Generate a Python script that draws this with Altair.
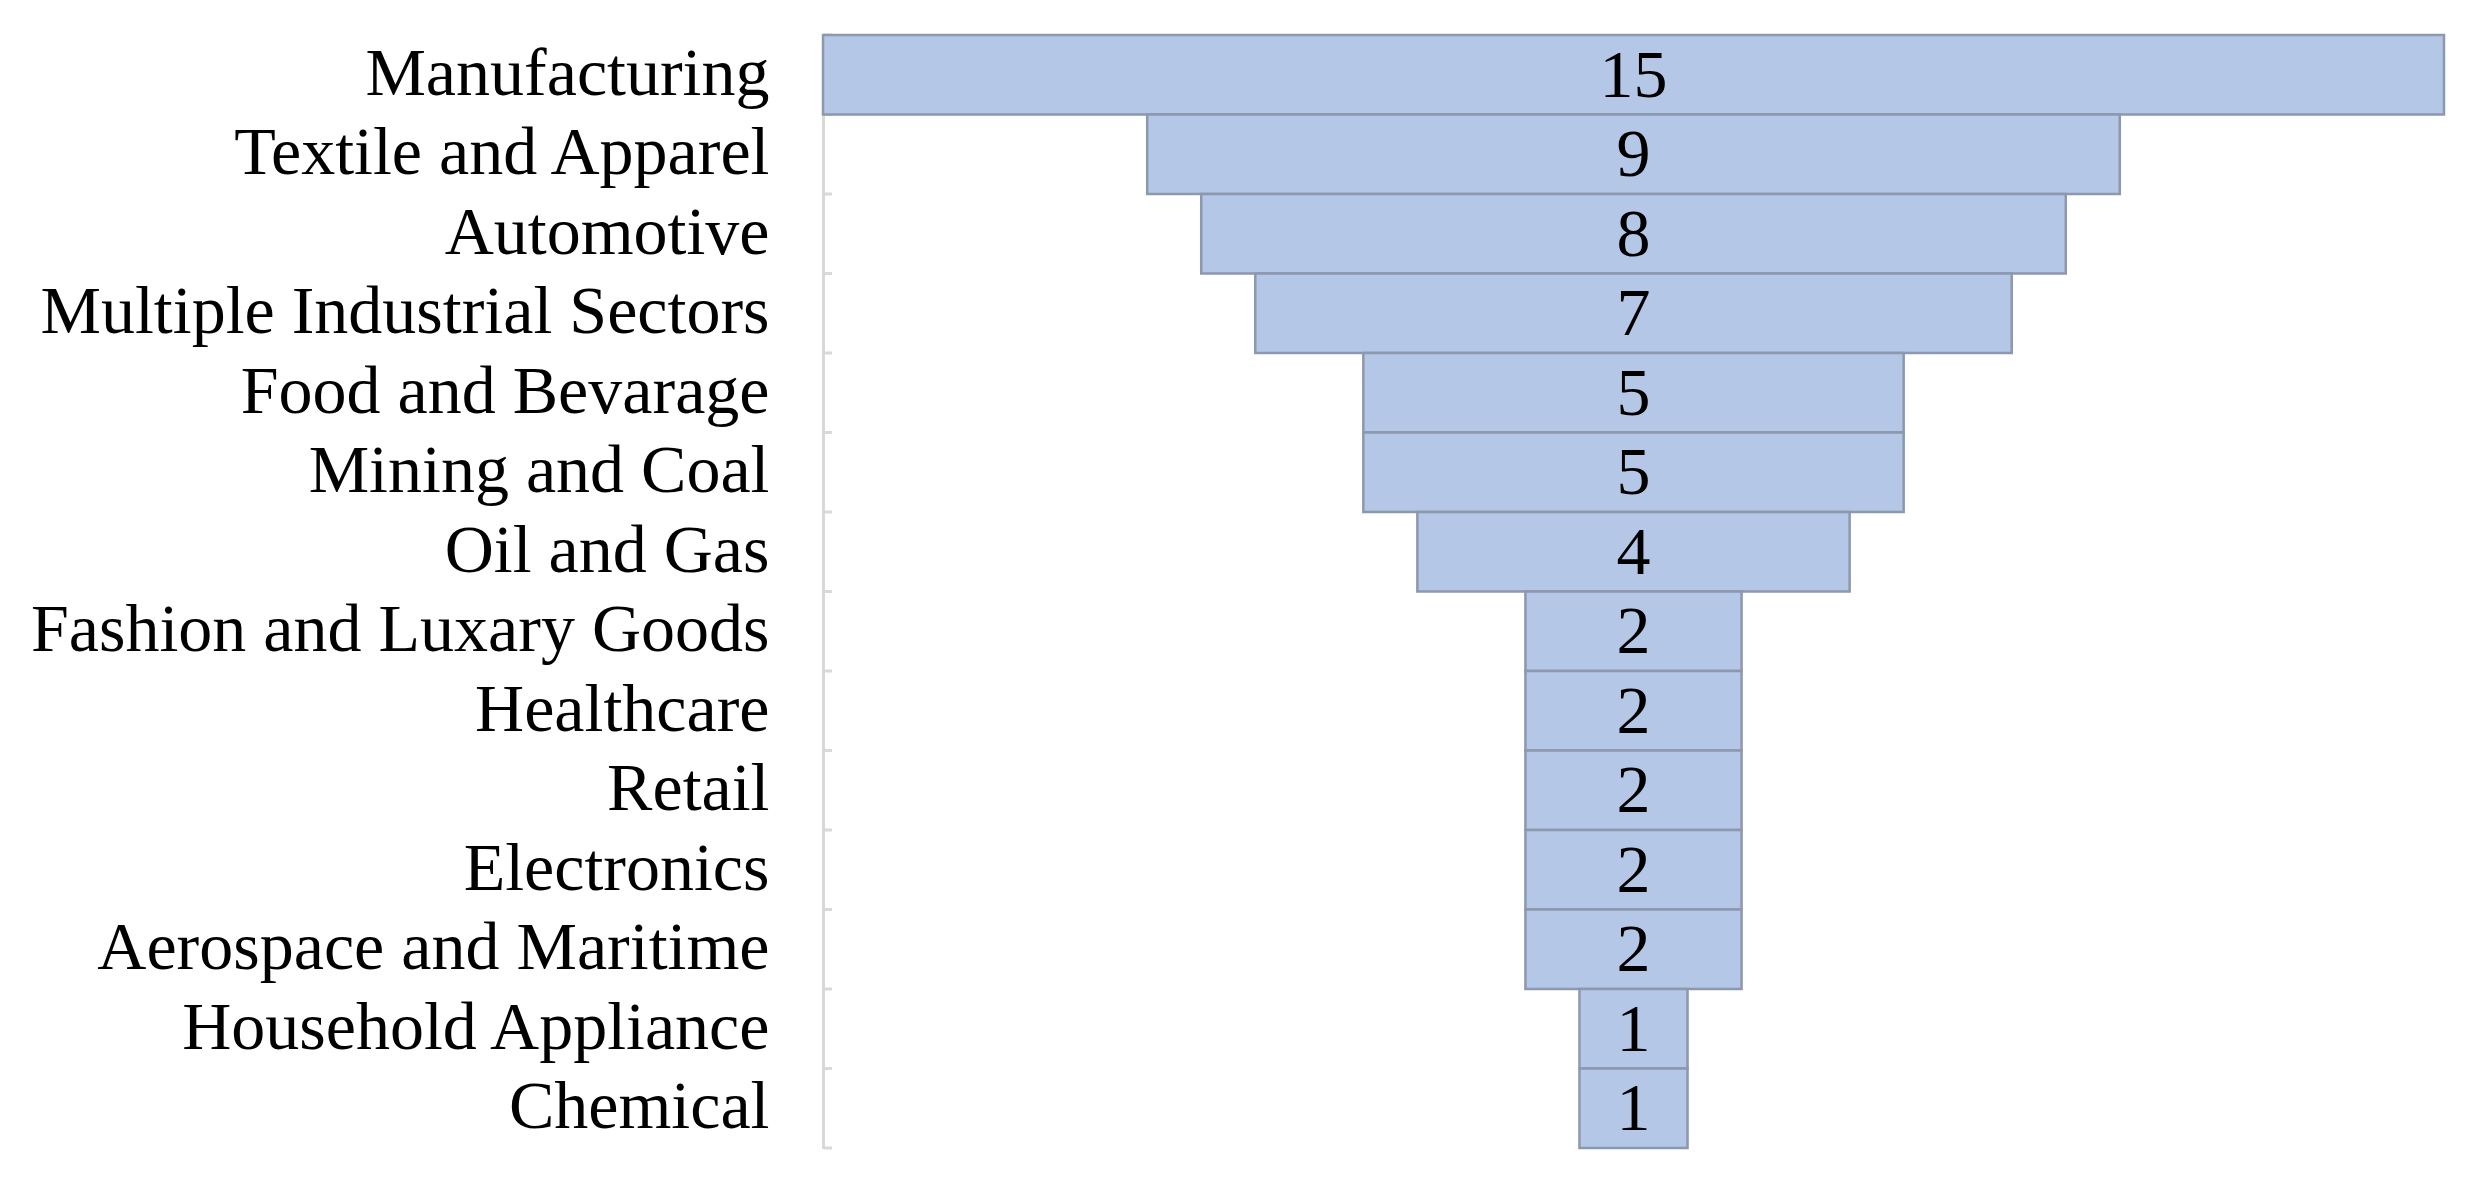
import altair as alt
import pandas as pd

categories = ["Manufacturing", "Textile and Apparel", "Automotive", "Multiple Industrial Sectors",
              "Food and Bevarage", "Mining and Coal", "Oil and Gas", "Fashion and Luxary Goods",
              "Healthcare", "Retail", "Electronics", "Aerospace and Maritime",
              "Household Appliance", "Chemical"]
counts = [15, 9, 8, 7, 5, 5, 4, 2, 2, 2, 2, 2, 1, 1]
max_count = 15

df = pd.DataFrame({"sector": categories, "count": counts})

FONT = "Liberation Serif"
W, H = 1621, 1113

y = alt.Y("sector:N", sort=categories, title=None,
          scale=alt.Scale(paddingInner=0, paddingOuter=0),
          axis=alt.Axis(ticks=False, domain=True, domainColor="#D9D9D9", domainWidth=3,
                        labelFont=FONT, labelFontSize=68, labelColor="#000000",
                        labelPadding=54, labelLimit=1000, grid=False))

xscale = alt.Scale(domain=[0, max_count], nice=False)

base = alt.Chart(df).transform_calculate(
    x0=f"({max_count} - datum['count']) / 2",
    x1=f"({max_count} + datum['count']) / 2",
    xm=f"{max_count} / 2",
)

bars = base.mark_bar(color="#B4C7E7", stroke="#8C98AD", strokeWidth=2.5).encode(
    y=y,
    x=alt.X("x0:Q", scale=xscale, axis=None),
    x2="x1:Q",
)

labels = base.mark_text(font=FONT, fontSize=68, color="#000000", baseline="middle", dy=2).encode(
    y=alt.Y("sector:N", sort=categories),
    x=alt.X("xm:Q", scale=xscale, axis=None),
    text="count:Q",
)

ticks = base.mark_rule(color="#D9D9D9", strokeWidth=3).encode(
    y=alt.Y("sector:N", sort=categories, bandPosition=0),
    x=alt.value(0),
    x2=alt.value(9),
)

tick_end = alt.Chart(pd.DataFrame({"sector": [categories[-1]]})).mark_rule(
    color="#D9D9D9", strokeWidth=3).encode(
    y=alt.Y("sector:N", sort=categories, bandPosition=1),
    x=alt.value(0),
    x2=alt.value(9),
)

chart = alt.layer(ticks, tick_end, bars, labels).properties(
    width=W, height=H,
    autosize=alt.AutoSizeParams(type="none"),
    padding={"left": 815, "top": 27, "right": 24, "bottom": 31},
    view=alt.ViewBackground(stroke="transparent", strokeWidth=0),
).configure_view(strokeWidth=0, stroke="transparent").configure(background="#FFFFFF")

chart.save("out.html", embed_options={"renderer": "svg", "actions": False})
